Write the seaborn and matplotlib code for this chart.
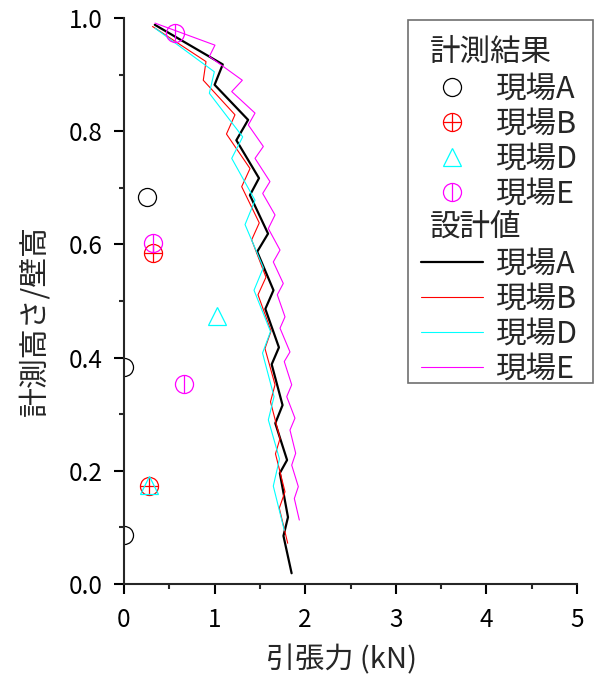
import matplotlib
matplotlib.use("Agg")
import matplotlib.pyplot as plt
import seaborn as sns
import pandas as pd
from matplotlib.legend_handler import HandlerBase, HandlerTuple
from matplotlib.lines import Line2D
from matplotlib.patches import Rectangle
from matplotlib.text import Text
from matplotlib.ticker import MultipleLocator, FormatStrFormatter

sns.set_style("ticks")
plt.rcParams["font.family"] = ["Noto Sans CJK JP", "DejaVu Sans"]

# 計測結果 (tension kN, normalized height)
meas_A_x = [0.25, 0.00, 0.00]
meas_A_y = [0.684, 0.384, 0.087]
meas_B_x = [0.324, 0.28]
meas_B_y = [0.584, 0.173]
meas_D_x = [1.023, 0.28]
meas_D_y = [0.474, 0.175]
meas_E_x = [0.563, 0.324, 0.666]
meas_E_y = [0.973, 0.603, 0.353]

# 設計値
design_A_x = [0.34, 1.09, 1.00, 1.37, 1.24, 1.49, 1.39, 1.59, 1.47, 1.65,
              1.56, 1.71, 1.63, 1.75, 1.67, 1.80, 1.72, 1.81, 1.76, 1.85]
design_A_y = [0.988, 0.918, 0.882, 0.820, 0.784, 0.717, 0.687, 0.619, 0.587, 0.519,
              0.486, 0.418, 0.388, 0.316, 0.284, 0.219, 0.196, 0.118, 0.085, 0.019]
design_B_x = [0.315, 0.905, 0.875, 1.225, 1.131, 1.391, 1.299, 1.493, 1.409, 1.567,
              1.479, 1.623, 1.556, 1.667, 1.617, 1.722, 1.672, 1.777, 1.714, 1.807]
design_B_y = [0.985, 0.923, 0.890, 0.829, 0.795, 0.734, 0.702, 0.638, 0.608, 0.542,
              0.511, 0.447, 0.416, 0.352, 0.322, 0.257, 0.230, 0.163, 0.134, 0.072]
design_D_x = [0.342, 0.997, 0.942, 1.310, 1.189, 1.446, 1.336, 1.538, 1.435, 1.617,
              1.529, 1.656, 1.593, 1.716, 1.648, 1.769]
design_D_y = [0.982, 0.905, 0.867, 0.790, 0.752, 0.678, 0.635, 0.559, 0.519, 0.446,
              0.408, 0.331, 0.290, 0.221, 0.173, 0.095]
design_E_x = [0.342, 1.004, 0.942, 1.306, 1.189, 1.446, 1.372, 1.538, 1.446, 1.611,
              1.531, 1.667, 1.593, 1.722, 1.648, 1.758, 1.692, 1.777, 1.722, 1.832,
              1.769, 1.851, 1.796, 1.887, 1.832, 1.895, 1.851, 1.924, 1.880, 1.935]
design_E_y = [0.991, 0.952, 0.932, 0.890, 0.870, 0.832, 0.811, 0.773, 0.752, 0.711,
              0.690, 0.652, 0.628, 0.590, 0.569, 0.531, 0.511, 0.472, 0.452, 0.410,
              0.393, 0.352, 0.331, 0.293, 0.272, 0.231, 0.210, 0.172, 0.151, 0.113]

site_labels = ["現場A", "現場B", "現場D", "現場E"]
site_colors = ["#000000", "#ff0000", "#00ffff", "#ff00ff"]

W, H = 598, 681
fig = plt.figure(figsize=(W / 100, H / 100), dpi=100)
ax = fig.add_axes([124 / W, 1 - 584 / H, 453 / W, 566 / H])

# design curves
design = [(design_A_x, design_A_y), (design_B_x, design_B_y),
          (design_D_x, design_D_y), (design_E_x, design_E_y)]
line_widths = [1.6, 0.8, 0.8, 0.8]
line_handles = []
for (xs, ys), lab, c, lw in zip(design, site_labels, site_colors, line_widths):
    df = pd.DataFrame({"x": xs, "y": ys})
    sns.lineplot(data=df, x="x", y="y", sort=False, estimator=None, color=c,
                 linewidth=lw, ax=ax, legend=False)
    line_handles.append(Line2D([], [], color=c, linewidth=lw))

# measured points
ms = 13
mew = 0.9


def draw_points(xs, ys, color, overlay=None, marker="o"):
    df = pd.DataFrame({"x": xs, "y": ys})
    sns.lineplot(data=df, x="x", y="y", sort=False, estimator=None, ax=ax,
                 legend=False, linestyle="", marker=marker, markersize=ms,
                 markerfacecolor="none", markeredgecolor=color,
                 markeredgewidth=mew, color=color)
    handles = [Line2D([], [], linestyle="", marker=marker, markersize=ms,
                      markerfacecolor="none", markeredgecolor=color,
                      markeredgewidth=mew)]
    if overlay is not None:
        sns.lineplot(data=df, x="x", y="y", sort=False, estimator=None, ax=ax,
                     legend=False, linestyle="", marker=overlay, markersize=ms,
                     markeredgecolor=color, markeredgewidth=mew, color=color)
        handles.append(Line2D([], [], linestyle="", marker=overlay, markersize=ms,
                              markeredgecolor=color, markeredgewidth=mew,
                              color=color))
    return tuple(handles)


h_A = draw_points(meas_A_x, meas_A_y, site_colors[0])
h_B = draw_points(meas_B_x, meas_B_y, site_colors[1], overlay="+")
h_D = draw_points(meas_D_x, meas_D_y, site_colors[2], marker="^")
h_E = draw_points(meas_E_x, meas_E_y, site_colors[3], overlay="|")

ax.set_xlim(0, 5)
ax.set_ylim(0, 1)
ax.xaxis.set_major_locator(MultipleLocator(1))
ax.xaxis.set_minor_locator(MultipleLocator(0.5))
ax.yaxis.set_major_locator(MultipleLocator(0.2))
ax.yaxis.set_minor_locator(MultipleLocator(0.1))
ax.yaxis.set_major_formatter(FormatStrFormatter("%.1f"))
ax.xaxis.set_major_formatter(FormatStrFormatter("%d"))
sns.despine(ax=ax)
for s in ("left", "bottom"):
    ax.spines[s].set_linewidth(1.5)
ax.tick_params(which="major", direction="out", length=7.5, width=1.5,
               labelsize=17.5, colors="black")
ax.tick_params(axis="y", which="major", pad=8)
ax.tick_params(axis="x", which="major", pad=9)
ax.tick_params(which="minor", direction="out", length=3.5, width=1.5)
ax.set_xlabel("引張力 (kN)", fontsize=21)
ax.set_ylabel("計測高さ/壁高", fontsize=21.5)
ax.xaxis.set_label_coords(0.481, -0.108)
ax.yaxis.set_label_coords(-0.163, 0.466)


class Header:
    def __init__(self, text):
        self.text = text


class HeaderHandler(HandlerBase):
    def create_artists(self, legend, orig_handle, xdescent, ydescent, width,
                       height, fontsize, trans):
        t = Text(x=-xdescent + 0.3 * fontsize, y=-ydescent + height / 2,
                 text=orig_handle.text, fontsize=fontsize, ha="left",
                 va="center", transform=trans)
        return [t]


handles = [Header("計測結果"), h_A, h_B, h_D, h_E, Header("設計値")] + line_handles
labels = [""] + site_labels + [""] + site_labels
leg = ax.legend(handles, labels,
                handler_map={Header: HeaderHandler(),
                             tuple: HandlerTuple(ndivide=1)},
                loc="upper left", bbox_to_anchor=(408 / W, 1 - 26 / H),
                bbox_transform=fig.transFigure, borderaxespad=0,
                fontsize=22, numpoints=1, handlelength=2.03, handletextpad=0.39,
                borderpad=0.42, labelspacing=0.13, frameon=False)

# legend box
fig.patches.append(Rectangle((408 / W, 1 - 383 / H), 185 / W, 363 / H,
                             transform=fig.transFigure, fill=False,
                             edgecolor="#707070", linewidth=1.2, zorder=5))

fig.savefig("out.png", dpi=100)
